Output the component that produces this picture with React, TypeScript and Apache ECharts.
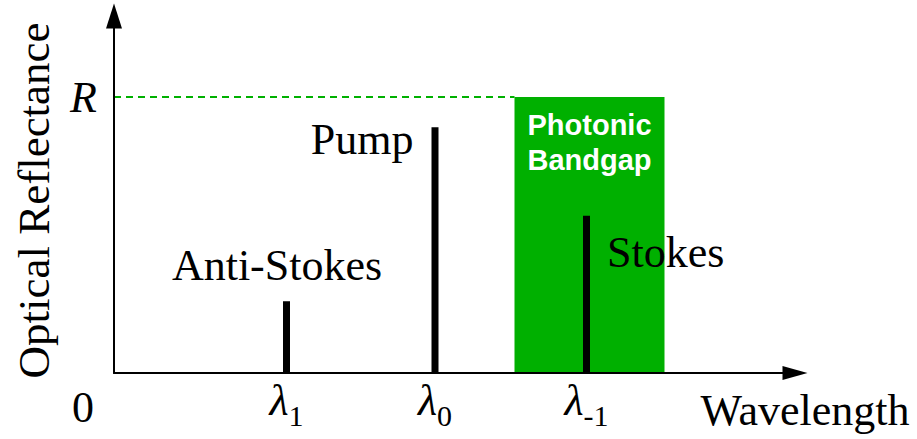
import React, { useEffect, useRef } from "react";
import * as echarts from "echarts";

// Spectral lines: names, subscript of λ, wavelength position, reflected intensity
const lineNames = ["Anti-Stokes", "Pump", "Stokes"];
const lineSubscripts = ["1", "0", "-1"];
const linePositions = [1.15, 2.14, 3.15];
const lineIntensities = [0.26, 0.89, 0.57];

// Photonic bandgap window and its reflectance level R
const bandgapRange = [2.67, 3.67];
const bandgapReflectance = 1;
const bandgapLabel = "Photonic\nBandgap";

// Axis ranges
const wavelengthMax = 4.46;
const reflectanceMax = 1.25;

const SERIF = "Liberation Serif";
const SANS = "Liberation Sans";
const GREEN = "#00b000";

// Where each line's name sits relative to its bar's top-left corner
const namePlacement = [
  { position: [-6, -36], align: "center" },
  { position: [-18, 12], align: "right" },
  { position: [24, 37], align: "left" },
];

export default function App() {
  const ref = useRef<HTMLDivElement>(null);

  useEffect(() => {
    if (!ref.current) return;
    const chart = echarts.init(ref.current, null, { renderer: "svg" });

    const barData = linePositions.map((x, i) => ({
      name: lineNames[i],
      value: [x, lineIntensities[i]],
      label: {
        show: true,
        formatter: "{b}",
        position: namePlacement[i].position,
        align: namePlacement[i].align,
        verticalAlign: "middle",
        fontFamily: SERIF,
        fontSize: 44,
        color: "#000",
      },
    }));

    const option: any = {
      animation: false,
      backgroundColor: "#fff",
      grid: {
        left: 114,
        right: 134,
        top: 28,
        bottom: 66,
        containLabel: false,
        outerBoundsMode: "none",
      },
      xAxis: {
        type: "value",
        min: 0,
        max: wavelengthMax,
        z: 10,
        splitLine: { show: false },
        axisTick: { show: false },
        axisLine: {
          show: true,
          onZero: false,
          symbol: ["none", "triangle"],
          symbolSize: [14, 25],
          symbolOffset: [0, 12],
          lineStyle: { color: "#000", width: 2 },
        },
        name: "Wavelength",
        nameLocation: "end",
        nameGap: 22,
        nameTextStyle: {
          fontFamily: SERIF,
          fontSize: 44,
          color: "#000",
          align: "center",
          verticalAlign: "top",
          padding: [15, 0, 0, 0],
        },
        axisLabel: {
          show: true,
          customValues: linePositions,
          margin: 5,
          formatter: (v: number) => {
            const i = linePositions.findIndex((p) => Math.abs(p - v) < 1e-6);
            return i < 0 ? "" : `{l|λ}{s|${lineSubscripts[i]}}`;
          },
          rich: {
            l: {
              fontFamily: SERIF,
              fontStyle: "italic",
              fontSize: 44,
              lineHeight: 44,
              color: "#000",
            },
            s: {
              fontFamily: SERIF,
              fontSize: 30,
              lineHeight: 30,
              padding: [30, 0, 0, 0],
              color: "#000",
            },
          },
        },
      },
      yAxis: {
        type: "value",
        min: 0,
        max: reflectanceMax,
        z: 10,
        splitLine: { show: false },
        axisTick: { show: false },
        axisLine: {
          show: true,
          onZero: false,
          symbol: ["none", "triangle"],
          symbolSize: [16, 25],
          symbolOffset: [0, 12],
          lineStyle: { color: "#000", width: 2 },
        },
        name: "Optical Reflectance",
        nameLocation: "middle",
        nameRotate: 90,
        nameGap: 58,
        nameTextStyle: {
          fontFamily: SERIF,
          fontSize: 45,
          color: "#000",
        },
        axisLabel: {
          show: true,
          customValues: [bandgapReflectance],
          margin: 17,
          formatter: () => "R",
          fontFamily: SERIF,
          fontStyle: "italic",
          fontSize: 44,
          color: "#000",
        },
      },
      graphic: [
        {
          type: "text",
          x: 83,
          y: 407,
          style: {
            text: "0",
            fontFamily: SERIF,
            fontSize: 44,
            fill: "#000",
            align: "center",
            verticalAlign: "middle",
          },
        },
      ],
      series: [
        {
          // Reflectance level R, dashed up to the bandgap, plus the bandgap window
          type: "line",
          z: 1,
          silent: true,
          symbol: "none",
          data: [
            [0, bandgapReflectance],
            [bandgapRange[0], bandgapReflectance],
          ],
          lineStyle: { color: GREEN, width: 2, type: [7, 5] },
          markArea: {
            silent: true,
            itemStyle: { color: GREEN, opacity: 1 },
            label: {
              show: true,
              position: "insideTop",
              distance: 10,
              color: "#fff",
              fontFamily: SANS,
              fontWeight: "bold",
              fontSize: 29,
              lineHeight: 35,
              align: "center",
            },
            data: [
              [
                { name: bandgapLabel, xAxis: bandgapRange[0], yAxis: 0 },
                { xAxis: bandgapRange[1], yAxis: bandgapReflectance },
              ],
            ],
          },
        },
        {
          type: "bar",
          z: 5,
          barWidth: 7,
          silent: true,
          itemStyle: { color: "#000" },
          data: barData,
        },
      ],
    };

    chart.setOption(option);
    return () => chart.dispose();
  }, []);

  return (
    <div
      ref={ref}
      style={{ position: "absolute", left: 0, top: 0, width: 917, height: 439 }}
    />
  );
}
